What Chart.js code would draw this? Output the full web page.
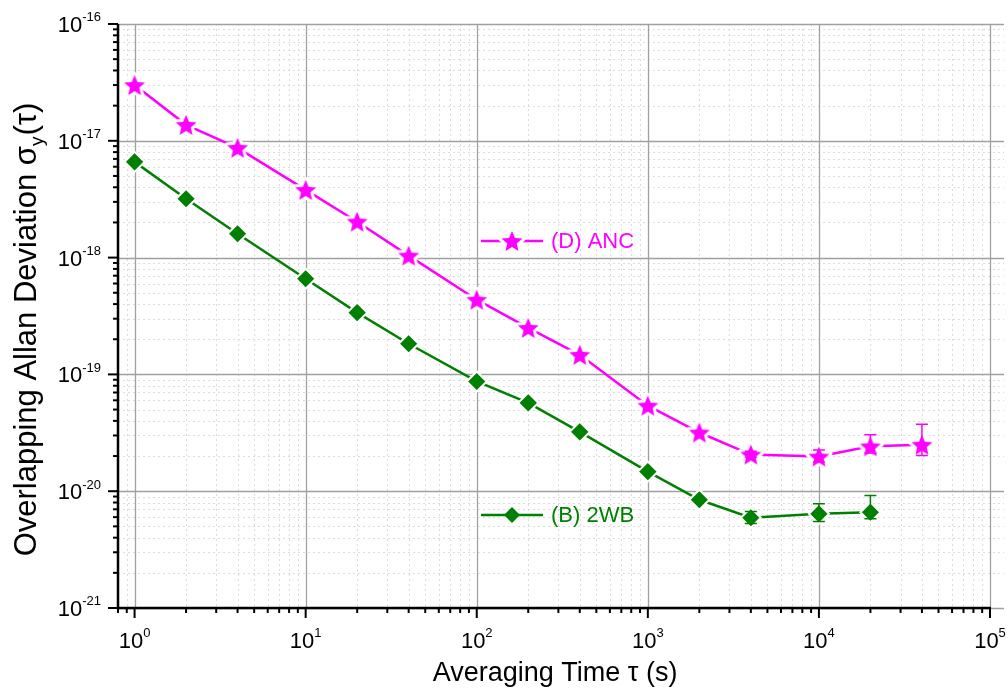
<!DOCTYPE html>
<html>
<head>
<meta charset="utf-8">
<script src="https://cdn.jsdelivr.net/npm/chart.js@4.4.1/dist/chart.umd.min.js"></script>
<style>
  html, body { margin: 0; padding: 0; background: #fff; }
  #wrap { width: 1008px; height: 689px; }
</style>
</head>
<body>
<div id="wrap"><canvas id="allanChart"></canvas></div>
<script>
// data
const ancTau = [1, 2, 4, 10, 20, 40, 100, 200, 400, 1000, 2000, 4000, 10000, 20000, 40000];
const ancDev = [3.0e-17, 1.37e-17, 8.7e-18, 3.8e-18, 2.03e-18, 1.04e-18, 4.36e-19, 2.5e-19, 1.47e-19, 5.4e-20, 3.18e-20, 2.06e-20, 1.98e-20, 2.42e-20, 2.5e-20];
const ancHi  = [null, null, null, null, null, null, null, null, null, null, null, 2.2e-20, 2.25e-20, 3.05e-20, 3.75e-20];
const ancLo  = [null, null, null, null, null, null, null, null, null, null, null, 1.95e-20, 1.78e-20, 2.12e-20, 2.02e-20];

const twbTau = [1, 2, 4, 10, 20, 40, 100, 200, 400, 1000, 2000, 4000, 10000, 20000];
const twbDev = [6.6e-18, 3.19e-18, 1.6e-18, 6.6e-19, 3.38e-19, 1.83e-19, 8.7e-20, 5.7e-20, 3.22e-20, 1.47e-20, 8.45e-21, 5.93e-21, 6.4e-21, 6.6e-21];
const twbHi  = [null, null, null, null, null, null, null, null, null, null, null, 6.7e-21, 7.8e-21, 9.2e-21];
const twbLo  = [null, null, null, null, null, null, null, null, null, null, null, 5.3e-21, 5.5e-21, 5.8e-21];

const xDecades = [0, 1, 2, 3, 4, 5];          // tick labels 10^n on x
const yDecades = [-21, -20, -19, -18, -17, -16]; // tick labels 10^n on y

const FONT = "'Liberation Sans', Arial, sans-serif";
const MAGENTA = '#ff00ff';
const GREEN = '#008000';

// filled five point star used as point style
function starImage(color, r) {
  const s = Math.ceil(r * 2 + 8);
  const c = document.createElement('canvas');
  c.width = s; c.height = s;
  const g = c.getContext('2d');
  g.beginPath();
  for (let i = 0; i < 10; i++) {
    const a = -Math.PI / 2 + i * Math.PI / 5;
    const rr = i % 2 ? r * 0.45 : r;
    const px = s / 2 + rr * Math.cos(a), py = s / 2 + rr * Math.sin(a) + 1;
    if (i === 0) g.moveTo(px, py); else g.lineTo(px, py);
  }
  g.closePath();
  g.lineJoin = 'round';
  g.lineWidth = 6;
  g.strokeStyle = '#fff';
  g.stroke();
  g.fillStyle = color;
  g.fill();
  return c;
}
const starPt = starImage(MAGENTA, 11);

// tick values 1..9 per decade
function logTicks(lo, hi) {
  const out = [];
  for (let e = lo; e <= hi; e++) {
    for (let m = 1; m <= 9; m++) out.push(m * Math.pow(10, e));
  }
  return out;
}

function drawPow(ctx, x, y, exp, size, align) {
  const base = '10', sup = String(exp);
  const ss = Math.round(size * 0.6);
  ctx.font = size + 'px ' + FONT;
  const wb = ctx.measureText(base).width;
  ctx.font = ss + 'px ' + FONT;
  const ws = ctx.measureText(sup).width;
  const x0 = align === 'right' ? x - wb - ws : x - (wb + ws) / 2;
  ctx.textAlign = 'left';
  ctx.textBaseline = 'alphabetic';
  ctx.font = size + 'px ' + FONT;
  ctx.fillText(base, x0, y);
  ctx.font = ss + 'px ' + FONT;
  ctx.fillText(sup, x0 + wb, y - size * 0.48);
}

const axesPlugin = {
  id: 'originAxes',
  beforeDatasetsDraw(chart) {
    const {ctx, chartArea: a, scales: {x, y}} = chart;
    ctx.save();
    // minor grid
    ctx.setLineDash([2, 3]);
    ctx.strokeStyle = '#dcdcdc';
    ctx.lineWidth = 1;
    x.ticks.forEach(t => {
      if (!t.major) {
        const px = Math.round(x.getPixelForValue(t.value)) + 0.5;
        ctx.beginPath(); ctx.moveTo(px, a.top); ctx.lineTo(px, a.bottom); ctx.stroke();
      }
    });
    y.ticks.forEach(t => {
      if (!t.major) {
        const py = Math.round(y.getPixelForValue(t.value)) + 0.5;
        ctx.beginPath(); ctx.moveTo(a.left, py); ctx.lineTo(a.right + 14, py); ctx.stroke();
      }
    });
    // major grid
    ctx.setLineDash([]);
    ctx.strokeStyle = '#a0a0a0';
    ctx.lineWidth = 1.3;
    x.ticks.forEach(t => {
      if (t.major) {
        const px = Math.round(x.getPixelForValue(t.value)) + 0.5;
        ctx.beginPath(); ctx.moveTo(px, a.top); ctx.lineTo(px, a.bottom); ctx.stroke();
      }
    });
    y.ticks.forEach(t => {
      if (t.major) {
        const py = Math.round(y.getPixelForValue(t.value)) + 0.5;
        ctx.beginPath(); ctx.moveTo(a.left, py); ctx.lineTo(a.right + 14, py); ctx.stroke();
      }
    });
    ctx.restore();
  },
  afterDatasetsDraw(chart) {
    const {ctx, scales: {x, y}} = chart;
    // error bars
    const sets = [[ancTau, ancHi, ancLo, MAGENTA], [twbTau, twbHi, twbLo, GREEN]];
    ctx.save();
    ctx.lineWidth = 1.5;
    sets.forEach(([tau, hi, lo, col]) => {
      ctx.strokeStyle = col;
      tau.forEach((t, i) => {
        if (hi[i] == null) return;
        const px = x.getPixelForValue(t);
        const pt = y.getPixelForValue(hi[i]), pb = y.getPixelForValue(lo[i]);
        ctx.beginPath();
        ctx.moveTo(px, pt); ctx.lineTo(px, pb);
        ctx.moveTo(px - 6, pt); ctx.lineTo(px + 6, pt);
        ctx.moveTo(px - 6, pb); ctx.lineTo(px + 6, pb);
        ctx.stroke();
      });
    });
    ctx.restore();
  },
  afterDraw(chart) {
    const {ctx, chartArea: a, scales: {x, y}} = chart;
    ctx.save();
    // axis lines and outward ticks
    ctx.strokeStyle = '#000';
    ctx.lineWidth = 2.5;
    ctx.beginPath();
    ctx.moveTo(a.left, a.top); ctx.lineTo(a.left, a.bottom); ctx.lineTo(a.right + 1, a.bottom);
    ctx.stroke();
    ctx.lineWidth = 2;
    x.ticks.forEach(t => {
      const px = x.getPixelForValue(t.value);
      const len = t.major ? 10 : 5;
      ctx.beginPath(); ctx.moveTo(px, a.bottom); ctx.lineTo(px, a.bottom + len); ctx.stroke();
    });
    y.ticks.forEach(t => {
      const py = y.getPixelForValue(t.value);
      const len = t.major ? 10 : 5;
      ctx.beginPath(); ctx.moveTo(a.left, py); ctx.lineTo(a.left - len, py); ctx.stroke();
    });
    // tick labels
    ctx.fillStyle = '#000';
    xDecades.forEach(e => drawPow(ctx, x.getPixelForValue(Math.pow(10, e)), a.bottom + 40, e, 22, 'center'));
    yDecades.forEach(e => drawPow(ctx, a.left - 17, y.getPixelForValue(Math.pow(10, e)) + 8, e, 22, 'right'));
    // axis titles
    ctx.font = '27px ' + FONT;
    ctx.textAlign = 'center';
    ctx.textBaseline = 'alphabetic';
    ctx.fillText('Averaging Time \u03c4 (s)', 555, 681);

    ctx.translate(36, 330);
    ctx.rotate(-Math.PI / 2);
    const p1 = 'Overlapping Allan Deviation \u03c3', p2 = 'y', p3 = '(\u03c4)';
    const big = '31px ' + FONT, small = '19px ' + FONT;
    ctx.font = big;
    const w1 = ctx.measureText(p1).width, w3 = ctx.measureText(p3).width;
    ctx.font = small;
    const w2 = ctx.measureText(p2).width;
    const sx = -(w1 + w2 + w3) / 2;
    ctx.textAlign = 'left';
    ctx.font = big;
    ctx.fillText(p1, sx, 0);
    ctx.font = small;
    ctx.fillText(p2, sx + w1, 7);
    ctx.font = big;
    ctx.fillText(p3, sx + w1 + w2 + 1, 0);
    ctx.restore();

    // in-plot legend
    ctx.save();
    const items = [[0, 241], [1, 515]];
    items.forEach(([di, ly]) => {
      const ds = chart.data.datasets[di];
      ctx.strokeStyle = ds.borderColor;
      ctx.lineWidth = 2.5;
      ctx.beginPath(); ctx.moveTo(481, ly); ctx.lineTo(543, ly); ctx.stroke();
      if (di === 0) {
        ctx.drawImage(starPt, 512 - starPt.width / 2, ly - starPt.height / 2);
      } else {
        ctx.fillStyle = ds.borderColor;
        ctx.beginPath();
        ctx.moveTo(512, ly - 8); ctx.lineTo(520, ly); ctx.lineTo(512, ly + 8); ctx.lineTo(504, ly);
        ctx.closePath(); ctx.fill();
      }
      ctx.fillStyle = ds.borderColor;
      ctx.font = '22px ' + FONT;
      ctx.textAlign = 'left';
      ctx.textBaseline = 'middle';
      ctx.fillText(ds.label, 551, ly + 1);
    });
    ctx.restore();
  }
};

const ctx = document.getElementById('allanChart').getContext('2d');
const allanChart = new Chart(ctx, {
  type: 'line',
  data: {
    datasets: [
      {
        label: '(D) ANC',
        data: ancTau.map((t, i) => ({x: t, y: ancDev[i]})),
        borderColor: MAGENTA,
        backgroundColor: MAGENTA,
        borderWidth: 2.5,
        pointStyle: starPt,
        pointRadius: 11,
        tension: 0
      },
      {
        label: '(B) 2WB',
        data: twbTau.map((t, i) => ({x: t, y: twbDev[i]})),
        borderColor: GREEN,
        backgroundColor: GREEN,
        borderWidth: 2.5,
        pointStyle: 'rectRot',
        pointRadius: 10,
        pointBorderColor: '#fff',
        pointBorderWidth: 2,
        tension: 0
      }
    ]
  },
  options: {
    responsive: true,
    maintainAspectRatio: false,
    animation: false,
    events: [],
    layout: { padding: { left: 110, right: 18, top: 24, bottom: 73 } },
    scales: {
      x: {
        type: 'logarithmic',
        min: 0.8,
        max: 1e5,
        afterBuildTicks: axis => {
          axis.ticks = logTicks(-1, 5).filter(v => v >= 0.8 && v <= 1.0001e5)
            .map(v => ({value: v, major: Math.abs(Math.log10(v) - Math.round(Math.log10(v))) < 1e-9}));
        },
        ticks: { display: false },
        grid: { display: false },
        border: { display: false }
      },
      y: {
        type: 'logarithmic',
        min: 1e-21,
        max: 1e-16,
        afterBuildTicks: axis => {
          axis.ticks = logTicks(-21, -16).filter(v => v <= 1.0001e-16)
            .map(v => ({value: v, major: Math.abs(Math.log10(v) - Math.round(Math.log10(v))) < 1e-9}));
        },
        ticks: { display: false },
        grid: { display: false },
        border: { display: false }
      }
    },
    plugins: {
      legend: { display: false },
      tooltip: { enabled: false }
    }
  },
  plugins: [axesPlugin]
});
</script>
</body>
</html>
